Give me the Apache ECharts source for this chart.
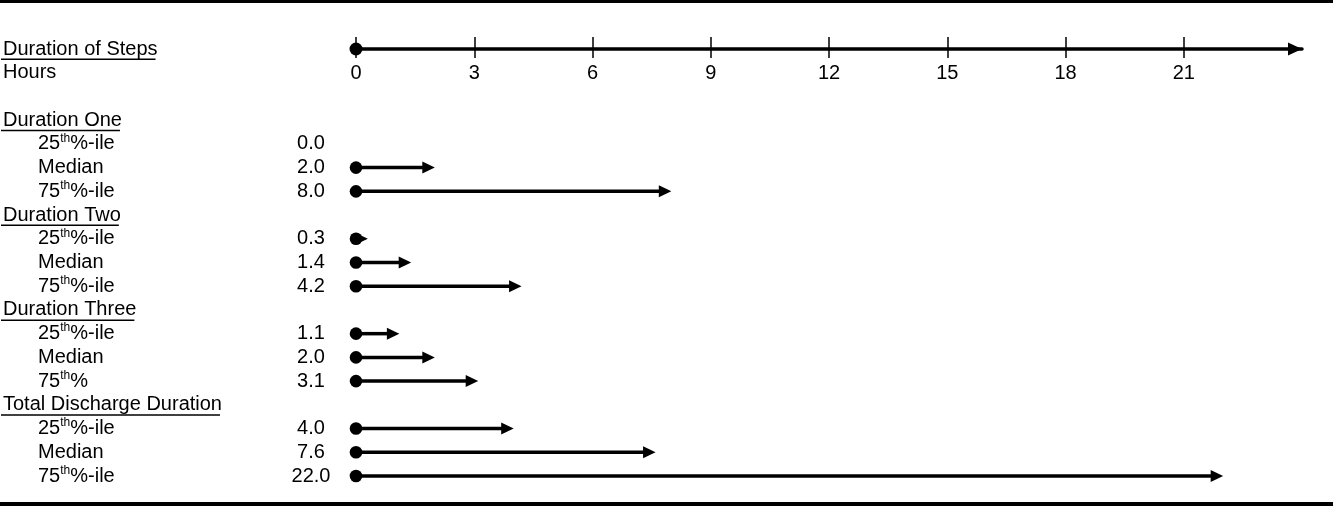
<!DOCTYPE html>
<html><head><meta charset="utf-8">
<script src="https://cdn.jsdelivr.net/npm/echarts@6/dist/echarts.min.js"></script>
<style>html,body{margin:0;padding:0;background:#fff}#c{width:1333px;height:507px}</style>
</head><body><div id="c"></div>
<script>
const axisTitle = 'Duration of Steps';
const axisUnit = 'Hours';
const hourTicks = [0, 3, 6, 9, 12, 15, 18, 21];
const axisMax = 24;
const groupNames = ['Duration One', 'Duration Two', 'Duration Three', 'Total Discharge Duration'];
const statLabels = [
  ['25th%-ile', 'Median', '75th%-ile'],
  ['25th%-ile', 'Median', '75th%-ile'],
  ['25th%-ile', 'Median', '75th%'],
  ['25th%-ile', 'Median', '75th%-ile']
];
const durationOne = [0.0, 2.0, 8.0];
const durationTwo = [0.3, 1.4, 4.2];
const durationThree = [1.1, 2.0, 3.1];
const totalDischarge = [4.0, 7.6, 22.0];
const groupValues = [durationOne, durationTwo, durationThree, totalDischarge];

const rows = [];
rows.push({type: 'header', text: axisTitle});
rows.push({type: 'plain', text: axisUnit});
rows.push({type: 'blank'});
groupNames.forEach((g, gi) => {
  rows.push({type: 'header', text: g});
  statLabels[gi].forEach((s, si) => rows.push({type: 'stat', text: s, value: groupValues[gi][si]}));
});
const maxRow = rows.length - 1;

const FONT = '"Liberation Sans", Arial, Helvetica, sans-serif';
const sup = s => s.replace('th', '{sup|th}');
const rowOf = v => rows[Math.round(v)] || {type: 'blank'};

const chart = echarts.init(document.getElementById('c'), null, {renderer: 'canvas'});

const baseLabel = {fontFamily: FONT, fontSize: 20, color: '#000', showMinLabel: true, showMaxLabel: true, hideOverlap: false};
const hiddenY = {
  type: 'value', min: 0, max: maxRow, interval: 1, inverse: true, gridIndex: 0,
  position: 'left', offset: 0,
  axisLine: {show: false}, axisTick: {show: false}, splitLine: {show: false}
};

const arrowData = [];
rows.forEach((r, i) => { if (r.type === 'stat') arrowData.push([r.value, i]); });

const option = {
  animation: false,
  backgroundColor: '#fff',
  textStyle: {fontFamily: FONT},
  grid: {left: 354, right: 31, top: 49, bottom: 31, containLabel: false},
  xAxis: [
    {
      type: 'value', min: 0, max: axisMax, interval: 3, position: 'top', offset: 0,
      axisLine: {show: true, lineStyle: {color: '#000', width: 3.5},
        symbol: ['none', 'path://M6,0L12,13L0,13Z'], symbolSize: [13, 14], symbolOffset: [0, -7]},
      axisTick: {show: true, inside: false, length: 12, customValues: hourTicks, lineStyle: {color: '#000', width: 1.5}},
      axisLabel: {show: false},
      splitLine: {show: false}
    },
    {
      type: 'value', min: 0, max: axisMax, interval: 3, position: 'top', offset: 0,
      axisLine: {show: false},
      axisTick: {show: true, inside: true, length: 9, customValues: hourTicks, lineStyle: {color: '#000', width: 1.5}},
      axisLabel: Object.assign({show: true, inside: true, margin: 14, customValues: hourTicks,
        formatter: v => (hourTicks.indexOf(v) >= 0 ? String(v) : '')}, baseLabel),
      splitLine: {show: false}
    }
  ],
  yAxis: [
    Object.assign({}, hiddenY, {
      axisLabel: Object.assign({align: 'left', margin: 353, lineHeight: 20,
        formatter: v => { const r = rowOf(v); return (r.type === 'header' || r.type === 'plain') ? r.text : ''; }}, baseLabel)
    }),
    Object.assign({}, hiddenY, {
      axisLabel: Object.assign({align: 'left', margin: 318, lineHeight: 23,
        rich: {sup: {fontFamily: FONT, fontSize: 12, lineHeight: 10, verticalAlign: 'top', color: '#000'}},
        formatter: v => { const r = rowOf(v); return r.type === 'stat' ? sup(r.text) : ''; }}, baseLabel)
    }),
    Object.assign({}, hiddenY, {
      axisLabel: Object.assign({align: 'center', margin: 45, lineHeight: 20,
        formatter: v => { const r = rowOf(v); return r.type === 'stat' ? r.value.toFixed(1) : ''; }}, baseLabel)
    })
  ],
  series: [
    {
      type: 'scatter', xAxisIndex: 0, yAxisIndex: 0, clip: false, silent: true,
      symbol: 'circle', symbolSize: 13, itemStyle: {color: '#000', opacity: 1},
      data: [[hourTicks[0], 0]], z: 10
    },
    {
      type: 'custom', xAxisIndex: 0, yAxisIndex: 0, clip: false, silent: true,
      data: arrowData,
      encode: {x: 0, y: 1},
      renderItem: function (params, api) {
        const v = api.value(0), r = api.value(1);
        if (!(v > 0)) return null;
        const p0 = api.coord([0, r]);
        const p1 = api.coord([v, r]);
        const head = 12.5, halfW = 6;
        const baseX = p1[0] - head;
        const children = [];
        if (baseX > p0[0]) {
          children.push({type: 'line', shape: {x1: p0[0], y1: p0[1], x2: baseX + 1, y2: p1[1]},
            style: {stroke: '#000', lineWidth: 3.5}});
        }
        children.push({type: 'polygon', shape: {points: [[p1[0], p1[1]], [baseX, p1[1] - halfW], [baseX, p1[1] + halfW]]},
          style: {fill: '#000'}});
        children.push({type: 'circle', shape: {cx: p0[0], cy: p0[1], r: 6.3}, style: {fill: '#000'}});
        return {type: 'group', children: children};
      }
    }
  ]
};
chart.setOption(option);

// decorations: borders and underlines of the headings
const ctx = document.createElement('canvas').getContext('2d');
ctx.font = '20px ' + FONT;
const graphics = [
  {type: 'rect', shape: {x: 0, y: 0, width: 1333, height: 3}, style: {fill: '#000'}},
  {type: 'rect', shape: {x: 0, y: 502, width: 1333, height: 4}, style: {fill: '#000'}}
];
rows.forEach((r, i) => {
  if (r.type === 'header') {
    const y = chart.convertToPixel({yAxisIndex: 0}, i);
    const w = ctx.measureText(r.text).width;
    graphics.push({type: 'rect', shape: {x: 1, y: y + 9.5, width: w, height: 1.5}, style: {fill: '#000'}});
  }
});
chart.setOption({graphic: graphics});
</script>
</body></html>
